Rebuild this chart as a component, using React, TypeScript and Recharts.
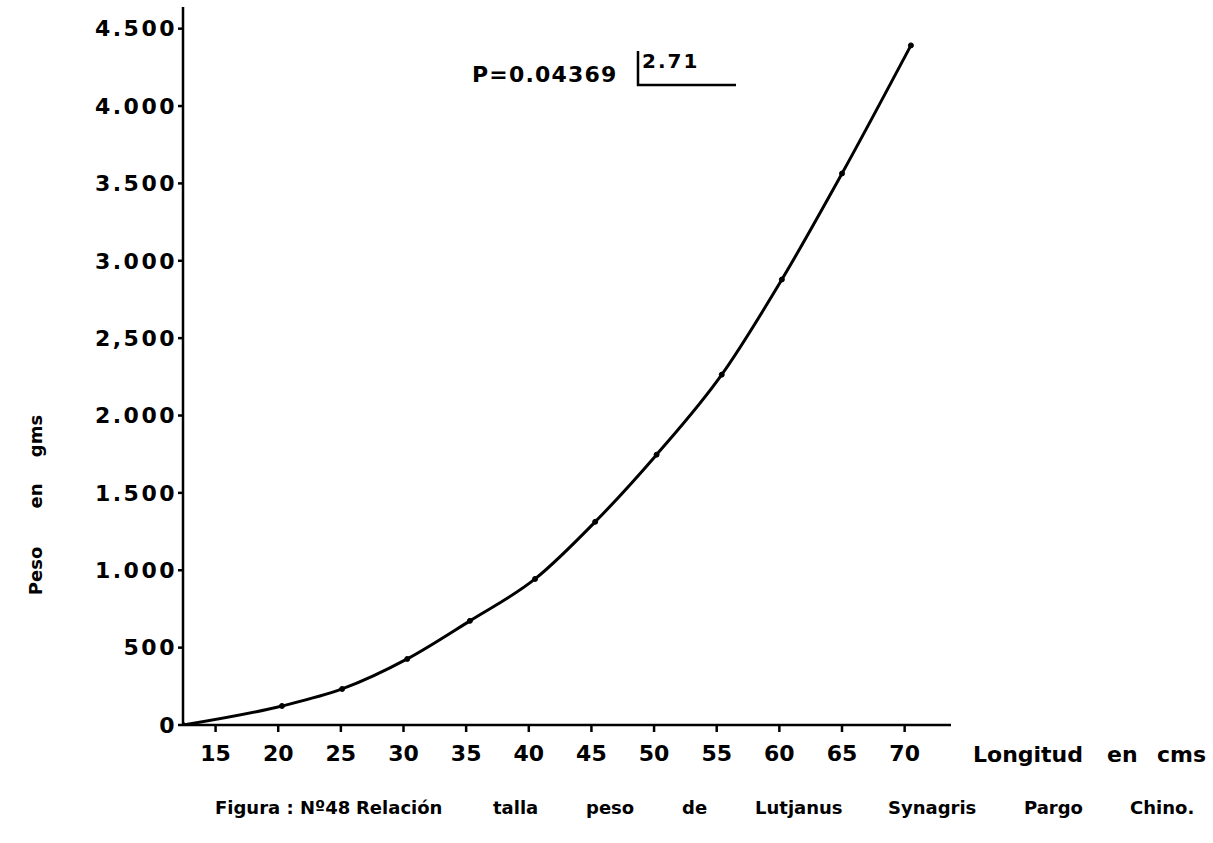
import { LineChart, Line, XAxis, YAxis } from "recharts";

// talla (cm) vs peso (g), Lutjanus synagris
const LENGTH_CM = [12.4, 20.3, 25.1, 30.3, 35.3, 40.5, 45.3, 50.2, 55.4, 60.2, 65.0, 70.5];
const WEIGHT_G = [0, 123, 233, 427, 673, 944, 1313, 1747, 2264, 2879, 3564, 4392];

const X_TICKS = [15, 20, 25, 30, 35, 40, 45, 50, 55, 60, 65, 70];
const Y_TICKS = [0, 500, 1000, 1500, 2000, 2500, 3000, 3500, 4000, 4500];
const Y_TICK_LABELS = ["0", "500", "1.000", "1.500", "2.000", "2,500", "3.000", "3.500", "4.000", "4.500"];

const CAPTION_WORDS = [
  { text: "Figura : Nº48", x: 215 },
  { text: "Relación", x: 356 },
  { text: "talla", x: 493 },
  { text: "peso", x: 586 },
  { text: "de", x: 682 },
  { text: "Lutjanus", x: 755 },
  { text: "Synagris", x: 888 },
  { text: "Pargo", x: 1024 },
  { text: "Chino.", x: 1130 },
];

const FONT = "'DejaVu Sans', sans-serif";
const INK = "#000";

const data = LENGTH_CM.map((len, i) => ({ len, peso: WEIGHT_G[i] }));

const yLabel = (v: number) => Y_TICK_LABELS[Y_TICKS.indexOf(v)] ?? String(v);

export default function App() {
  return (
    <div style={{ position: "absolute", left: 0, top: 0, width: 1213, height: 843, background: "#fff" }}>
      <LineChart width={1213} height={843} data={data} margin={{ top: 7, right: 262, left: 83, bottom: 78 }}>
        <XAxis
          dataKey="len"
          type="number"
          domain={[12.4, 73.7]}
          ticks={X_TICKS}
          allowDataOverflow
          height={40}
          stroke={INK}
          strokeWidth={2.5}
          tickSize={7}
          tickMargin={13}
          tick={{ fill: INK, fontSize: 22, fontWeight: 700, fontFamily: FONT }}
        />
        <YAxis
          type="number"
          domain={[0, 4640]}
          ticks={Y_TICKS}
          allowDataOverflow
          width={100}
          stroke={INK}
          strokeWidth={2.5}
          tickSize={5}
          tickMargin={1}
          tickFormatter={yLabel}
          tick={{ fill: INK, fontSize: 22, fontWeight: 700, fontFamily: FONT, letterSpacing: 2.5 }}
        />
        <Line
          type="monotone"
          dataKey="peso"
          stroke={INK}
          strokeWidth={3}
          dot={{ r: 2.5, fill: INK, stroke: INK, strokeWidth: 1 }}
          isAnimationActive={false}
        />
      </LineChart>

      <svg width={1213} height={843} style={{ position: "absolute", left: 0, top: 0, pointerEvents: "none" }}>
        <g fontFamily={FONT} fontWeight={700} fill={INK}>
          <text x={472} y={82} fontSize={22} letterSpacing={1.2}>P=0.04369</text>
          <text x={642} y={68} fontSize={20} letterSpacing={2}>2.71</text>
          <path d="M638 51 V85 H736" fill="none" stroke={INK} strokeWidth={2.5} />

          <text x={973} y={762} fontSize={22}>Longitud</text>
          <text x={1107} y={762} fontSize={22}>en</text>
          <text x={1157} y={762} fontSize={22}>cms</text>

          <text x={0} y={0} fontSize={18} textAnchor="middle" transform="translate(42 436) rotate(-90)">gms</text>
          <text x={0} y={0} fontSize={18} textAnchor="middle" transform="translate(42 496) rotate(-90)">en</text>
          <text x={0} y={0} fontSize={18} textAnchor="middle" transform="translate(42 571) rotate(-90)">Peso</text>

          {CAPTION_WORDS.map((w) => (
            <text key={w.text} x={w.x} y={814} fontSize={18}>{w.text}</text>
          ))}
        </g>
      </svg>
    </div>
  );
}
